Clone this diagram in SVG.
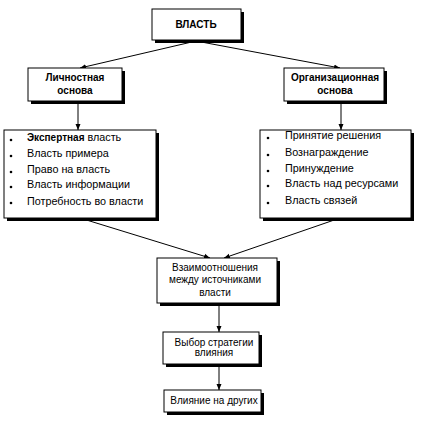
<svg xmlns="http://www.w3.org/2000/svg" width="421" height="421" viewBox="0 0 421 421">
<style>
.box{fill:#fff;stroke:#000;stroke-width:1}
.sh{fill:#000}
.t{font-family:"Liberation Sans",Arial,sans-serif;font-size:10px;fill:#000}
.li{font-size:10.8px}
.b{font-weight:bold}
.c{text-anchor:middle}
.ln{stroke:#000;stroke-width:1;fill:none;marker-end:url(#ah)}
</style>
<defs>
<marker id="ah" viewBox="0 0 6 6" refX="6" refY="3" markerWidth="6" markerHeight="6" markerUnits="userSpaceOnUse" orient="auto">
<path d="M0,0.5 L6,3 L0,5.5 Z" fill="#000"/>
</marker>
</defs>
<rect width="421" height="421" fill="#fff"/>
<g id="connectors">
<line class="ln" x1="196" y1="41" x2="80" y2="68"/>
<line class="ln" x1="196" y1="41" x2="340" y2="68"/>
<line class="ln" x1="78" y1="101" x2="78" y2="130"/>
<line class="ln" x1="341" y1="102" x2="341" y2="130"/>
<line class="ln" x1="80" y1="218" x2="210" y2="258"/>
<line class="ln" x1="340" y1="218" x2="224" y2="258"/>
<line class="ln" x1="219" y1="303" x2="219" y2="332"/>
<line class="ln" x1="219" y1="365" x2="219" y2="390"/>
</g>
<g id="vlast">
<rect class="sh" x="155" y="12" width="89" height="31"/>
<rect class="box" x="152" y="9" width="89" height="31"/>
<text class="t b c" x="196" y="28">ВЛАСТЬ</text>
</g>
<g id="lichnostnaya">
<rect class="sh" x="31" y="71" width="94" height="33"/>
<rect class="box" x="28" y="68" width="94" height="33"/>
<text class="t b c" x="75" y="81">Личностная</text>
<text class="t b c" x="75" y="94">основа</text>
</g>
<g id="organizatsionnaya">
<rect class="sh" x="287" y="71" width="100" height="33"/>
<rect class="box" x="284" y="68" width="100" height="33"/>
<text class="t b c" x="335" y="81">Организационная</text>
<text class="t b c" x="335" y="94">основа</text>
</g>
<g id="list-left">
<rect class="sh" x="7" y="133" width="152" height="88"/>
<rect class="box" x="4" y="130" width="152" height="88"/>
<circle cx="11" cy="140" r="1.3"/>
<circle cx="11" cy="156" r="1.3"/>
<circle cx="11" cy="172" r="1.3"/>
<circle cx="11" cy="187" r="1.3"/>
<circle cx="11" cy="203" r="1.3"/>
<text class="t li" x="27" y="141"><tspan class="b" font-size="10">Экспертная</tspan> власть</text>
<text class="t li" x="27" y="157">Власть примера</text>
<text class="t li" x="27" y="173">Право на власть</text>
<text class="t li" x="27" y="188">Власть информации</text>
<text class="t li" x="27" y="205">Потребность во власти</text>
</g>
<g id="list-right">
<rect class="sh" x="263" y="133" width="151" height="88"/>
<rect class="box" x="260" y="130" width="151" height="88"/>
<circle cx="268" cy="138" r="1.3"/>
<circle cx="268" cy="155" r="1.3"/>
<circle cx="268" cy="171" r="1.3"/>
<circle cx="268" cy="186" r="1.3"/>
<circle cx="268" cy="203" r="1.3"/>
<text class="t li" x="285" y="139">Принятие решения</text>
<text class="t li" x="285" y="156">Вознаграждение</text>
<text class="t li" x="285" y="172">Принуждение</text>
<text class="t li" x="285" y="187">Власть над ресурсами</text>
<text class="t li" x="285" y="204">Власть связей</text>
</g>
<g id="vzaimo">
<rect class="sh" x="160" y="261" width="120" height="45"/>
<rect class="box" x="157" y="258" width="120" height="45"/>
<text class="t c" x="215" y="271">Взаимоотношения</text>
<text class="t c" x="215" y="283">между источниками</text>
<text class="t c" x="215" y="296">власти</text>
</g>
<g id="vybor">
<rect class="sh" x="166" y="335" width="96" height="32"/>
<rect class="box" x="163" y="332" width="96" height="32"/>
<text class="t c" x="214" y="346">Выбор стратегии</text>
<text class="t c" x="214" y="356">влияния</text>
</g>
<g id="vliyanie">
<rect class="sh" x="167" y="393" width="97" height="22"/>
<rect class="box" x="164" y="390" width="97" height="22"/>
<text class="t c" x="214" y="404">Влияние на других</text>
</g>
</svg>
